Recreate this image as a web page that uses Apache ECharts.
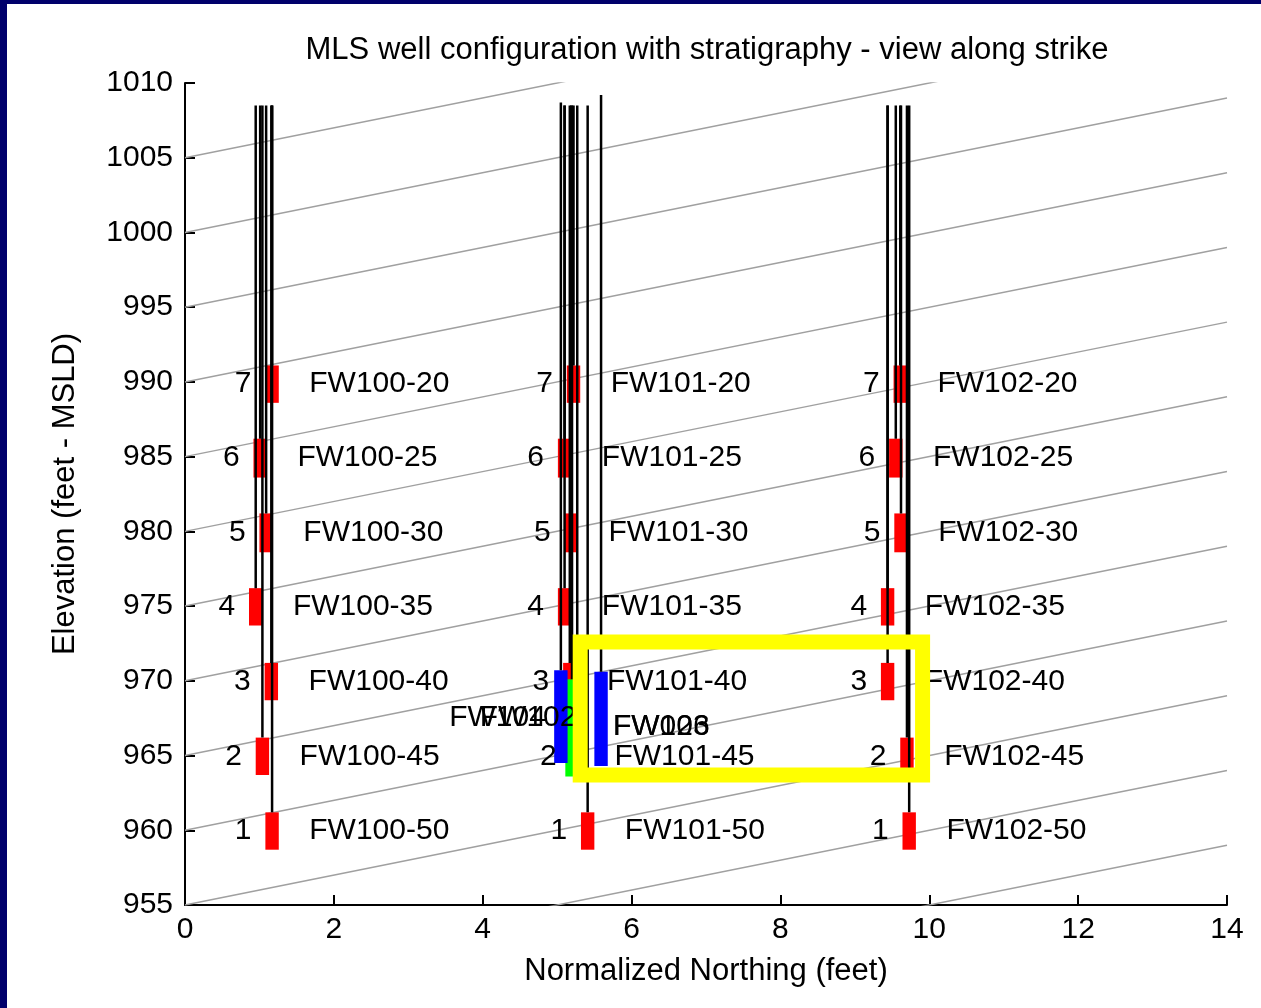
<!DOCTYPE html>
<html><head><meta charset="utf-8">
<script src="https://cdn.jsdelivr.net/npm/echarts@6/dist/echarts.min.js"></script>
<style>
html,body{margin:0;padding:0;background:#00006b;width:1261px;height:1008px;overflow:hidden}
#chart{position:absolute;left:7px;top:4px;width:1254px;height:1004px;background:#fff}
</style></head><body><div id="chart"></div>
<script>
// ---------- axis ranges / ticks ----------
const xRange = [0, 14];
const xTickStep = 2;
const yRange = [955, 1010];
const yTickStep = 5;

// ---------- stratigraphy lines (elevation at x=0 and at x=14) ----------
const strataStartElev = [1005, 1000, 995, 990, 985, 980, 975, 970, 965, 960, 955, 950, 945];
const strataEndElev   = [1019, 1014, 1009, 1004, 999, 994, 989, 984, 979, 974, 969, 964, 959];

// ---------- MLS well FW100 ----------
const fw100Names = ['FW100-20','FW100-25','FW100-30','FW100-35','FW100-40','FW100-45','FW100-50'];
const fw100Levels = ['7','6','5','4','3','2','1'];
const fw100X = [1.17, 1.01, 1.09, 0.95, 1.16, 1.04, 1.17];
const fw100CasingTop = [1008.5, 1008.5, 1008.5, 1008.5, 1008.5, 1008.5, 1008.5];
const fw100ScreenTop = [991.1, 986.2, 981.2, 976.2, 971.2, 966.2, 961.2];
const fw100ScreenBot = [988.6, 983.6, 978.6, 973.7, 968.7, 963.7, 958.7];

// ---------- MLS well FW101 ----------
const fw101Names = ['FW101-20','FW101-25','FW101-30','FW101-35','FW101-40','FW101-45','FW101-50'];
const fw101Levels = ['7','6','5','4','3','2','1'];
const fw101X = [5.22, 5.10, 5.19, 5.10, 5.17, 5.27, 5.41];
const fw101CasingTop = [1008.5, 1008.5, 1008.5, 1008.5, 1008.5, 1008.5, 1008.5];
const fw101ScreenTop = [991.1, 986.2, 981.2, 976.2, 971.2, 966.2, 961.2];
const fw101ScreenBot = [988.6, 983.6, 978.6, 973.7, 968.7, 963.7, 958.7];

// ---------- MLS well FW102 ----------
const fw102Names = ['FW102-20','FW102-25','FW102-30','FW102-35','FW102-40','FW102-45','FW102-50'];
const fw102Levels = ['7','6','5','4','3','2','1'];
const fw102X = [9.61, 9.55, 9.62, 9.44, 9.44, 9.70, 9.73];
const fw102CasingTop = [1008.5, 1008.5, 1008.5, 1008.5, 1008.5, 1008.5, 1008.5];
const fw102ScreenTop = [991.1, 986.2, 981.2, 976.2, 971.2, 966.2, 961.2];
const fw102ScreenBot = [988.6, 983.6, 978.6, 973.7, 968.7, 963.7, 958.7];

// ---------- other wells (long screens) ----------
const otherWellX = [5.20, 5.05, 5.59];
const otherCasingTop = [1008.5, 1008.7, 1009.2];
const otherScreenTop = [970.1, 970.7, 970.6];
const otherScreenBot = [963.6, 964.5, 964.3];
const otherWellColor = ['#00ff00', '#0000ff', '#0000ff'];
const otherLabelText = ['FW104', 'FW102', 'FW026', 'FW103'];
const otherLabelX = [3.55, 3.96, 5.75, 5.75];
const otherLabelY = [967.5, 967.5, 966.9, 966.9];

// ---------- highlight box (annotation) ----------
const highlightX = [7.6, 9.91, 9.91, 5.31, 5.31, 7.6];
const highlightY = [972.6, 972.6, 963.7, 963.7, 972.6, 972.6];

// ---------- build ----------
const FONT = '"Liberation Sans", Arial, sans-serif';
const SCREEN_W = 0.18;
const LABEL_OFF = 0.5;

const mlsWells = [];
[[fw100Names, fw100Levels, fw100X, fw100CasingTop, fw100ScreenTop, fw100ScreenBot],
 [fw101Names, fw101Levels, fw101X, fw101CasingTop, fw101ScreenTop, fw101ScreenBot],
 [fw102Names, fw102Levels, fw102X, fw102CasingTop, fw102ScreenTop, fw102ScreenBot]]
.forEach(([names, lv, xs, ct, st, sb]) => {
  names.forEach((n, i) => mlsWells.push({name: n, level: lv[i], x: xs[i], casing: ct[i], top: st[i], bot: sb[i]}));
});
const otherWells = otherWellX.map((x, i) => ({x, casing: otherCasingTop[i], top: otherScreenTop[i], bot: otherScreenBot[i], color: otherWellColor[i]}));

function boxSeries(wells, colorFn, z) {
  return {
    type: 'custom', coordinateSystem: 'cartesian2d', z, silent: true,
    encode: {x: 0, y: [1, 2]},
    data: wells.map(w => [w.x, w.top, w.bot]),
    renderItem(params, api) {
      const x = api.value(0), t = api.value(1), b = api.value(2);
      const p1 = api.coord([x - SCREEN_W / 2, t]);
      const p2 = api.coord([x + SCREEN_W / 2, b]);
      return {type: 'rect', shape: {x: p1[0], y: p1[1], width: p2[0] - p1[0], height: p2[1] - p1[1]},
        style: {fill: colorFn(params.dataIndex)}};
    }
  };
}
function casingSeries(wells, z) {
  return {
    type: 'custom', coordinateSystem: 'cartesian2d', z, silent: true,
    encode: {x: 0, y: [1, 2]},
    data: wells.map(w => [w.x, w.casing, w.top]),
    renderItem(params, api) {
      const p1 = api.coord([api.value(0), api.value(1)]);
      const p2 = api.coord([api.value(0), api.value(2)]);
      return {type: 'line', shape: {x1: p1[0], y1: p1[1], x2: p2[0], y2: p2[1]},
        style: {stroke: '#000', lineWidth: 2.5}};
    }
  };
}
function textSeries(items, z) {
  return {
    type: 'custom', coordinateSystem: 'cartesian2d', z, silent: true,
    encode: {x: 0, y: 1},
    data: items.map(t => [t.x, t.y]),
    renderItem(params, api) {
      const p = api.coord([api.value(0), api.value(1)]);
      return {type: 'text', x: p[0], y: p[1],
        style: {text: items[params.dataIndex].text, fill: '#000', font: '30px ' + FONT,
          align: 'left', verticalAlign: 'middle'}};
    }
  };
}

const labelItems = [];
mlsWells.forEach(w => {
  const mid = (w.top + w.bot) / 2;
  labelItems.push({x: w.x - LABEL_OFF, y: mid, text: w.level});
  labelItems.push({x: w.x + LABEL_OFF, y: mid, text: w.name});
});
otherLabelText.forEach((t, i) => labelItems.push({x: otherLabelX[i], y: otherLabelY[i], text: t}));

const series = [];
strataStartElev.forEach((s, i) => {
  series.push({type: 'line', data: [[xRange[0], s], [xRange[1], strataEndElev[i]]], symbol: 'none',
    clip: true, silent: true, z: 1, lineStyle: {color: '#a0a0a0', width: 1.5}});
});
series.push(boxSeries(mlsWells, () => '#ff0000', 2));
series.push(boxSeries(otherWells, i => otherWellColor[i], 3));
series.push(casingSeries(mlsWells.concat(otherWells), 4));
series.push(textSeries(labelItems, 5));
series.push({type: 'line', data: highlightX.map((x, i) => [x, highlightY[i]]), symbol: 'none',
  clip: false, silent: true, z: 10,
  lineStyle: {color: '#ffff00', width: 15, join: 'miter', cap: 'square'}});

const axisCommon = {
  axisLine: {show: true, onZero: false, lineStyle: {color: '#000', width: 2}},
  axisTick: {show: true, inside: true, length: 10, lineStyle: {color: '#000', width: 2}},
  splitLine: {show: false},
  nameLocation: 'middle',
  nameTextStyle: {color: '#000', fontSize: 31, fontFamily: FONT}
};
const plainNum = v => String(v);

const chart = echarts.init(document.getElementById('chart'), null, {renderer: 'canvas'});
chart.setOption({
  animation: false,
  backgroundColor: '#fff',
  title: {text: 'MLS well configuration with stratigraphy - view along strike', left: 695, top: 26,
    textAlign: 'center',
    textStyle: {color: '#000', fontSize: 31, fontWeight: 'normal', fontFamily: FONT}},
  grid: {left: 178, top: 79, right: 34, bottom: 103, containLabel: false},
  xAxis: Object.assign({type: 'value', min: xRange[0], max: xRange[1], interval: xTickStep,
    name: 'Normalized Northing (feet)', nameGap: 51,
    axisLabel: {color: '#000', fontSize: 30, fontFamily: FONT, margin: 10, formatter: plainNum,
      showMinLabel: true, showMaxLabel: true}}, axisCommon),
  yAxis: Object.assign({type: 'value', min: yRange[0], max: yRange[1], interval: yTickStep,
    name: 'Elevation (feet - MSLD)', nameGap: 104,
    axisLabel: {color: '#000', fontSize: 30, fontFamily: FONT, margin: 12, formatter: plainNum,
      showMinLabel: true, showMaxLabel: true}}, axisCommon),
  series
});
</script></body></html>
